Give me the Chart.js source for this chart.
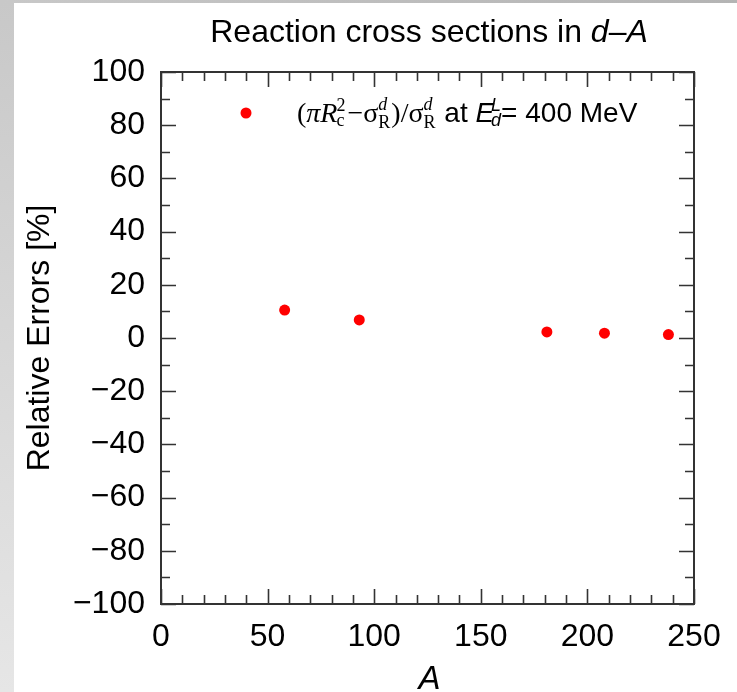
<!DOCTYPE html>
<html>
<head>
<meta charset="utf-8">
<script src="https://cdn.jsdelivr.net/npm/chart.js@4"></script>
<style>
  html, body { margin: 0; padding: 0; }
  body { width: 737px; height: 692px; position: relative; overflow: hidden; background: #fff; }
  #topBar { position: absolute; left: 0; top: 0; width: 737px; height: 3px; background: linear-gradient(to right, #c8c8c8, #b4b4b4); }
  #leftBar { position: absolute; left: 0; top: 0; width: 14px; height: 692px; background: linear-gradient(to bottom, #c8c8c8, #e6e6e6); }
  #wrap { position: absolute; left: 14px; top: 3px; width: 723px; height: 689px; background: #fff; }
</style>
</head>
<body>
<div id="topBar"></div>
<div id="leftBar"></div>
<div id="wrap"><canvas id="chart"></canvas></div>
<script>
// mass number of the target nucleus and relative error in %
const massNumbers = [58, 93, 181, 208, 238];
const relErrors = [10.5, 6.8, 2.3, 1.8, 1.3];

const xTicks = { min: 0, max: 250, major: 50, minor: 10 };
const yTicks = { min: -100, max: 100, major: 20, minor: 10 };

const SANS = '"Liberation Sans", Arial, Helvetica, sans-serif';
const SERIF = '"Liberation Serif", "Times New Roman", serif';
const INK = '#333';

// inside ticks on all four sides + frame
const frameTicks = {
    id: 'frameTicks',
    afterDatasetsDraw(chart) {
        const { ctx, chartArea: a, scales: { x, y } } = chart;
        ctx.save();
        ctx.strokeStyle = INK;
        ctx.lineWidth = 1.6;
        const majLen = 15, minLen = 9;
        ctx.beginPath();
        for (let v = xTicks.min; v <= xTicks.max; v += xTicks.minor) {
            const px = Math.round(x.getPixelForValue(v)) + 0.5;
            const len = v % xTicks.major === 0 ? majLen : minLen;
            ctx.moveTo(px, a.bottom); ctx.lineTo(px, a.bottom - len);
            ctx.moveTo(px, a.top); ctx.lineTo(px, a.top + len);
        }
        for (let v = yTicks.min; v <= yTicks.max; v += yTicks.minor) {
            const py = Math.round(y.getPixelForValue(v)) + 0.5;
            const len = v % yTicks.major === 0 ? majLen : minLen;
            ctx.moveTo(a.left, py); ctx.lineTo(a.left + len, py);
            ctx.moveTo(a.right, py); ctx.lineTo(a.right - len, py);
        }
        ctx.stroke();
        ctx.lineWidth = 2;
        ctx.strokeRect(a.left, a.top, a.right - a.left, a.bottom - a.top);
        ctx.restore();
    }
};

function drawRuns(ctx, runs, x, y) {
    for (const r of runs) {
        ctx.font = r.font;
        ctx.fillText(r.t, x, y + (r.dy || 0));
        x += r.w !== undefined ? r.w : ctx.measureText(r.t).width;
    }
    return x;
}
function runsWidth(ctx, runs) {
    let w = 0;
    for (const r of runs) { ctx.font = r.font; w += r.w !== undefined ? r.w : ctx.measureText(r.t).width; }
    return w;
}

const decorations = {
    id: 'decorations',
    afterDraw(chart) {
        const { ctx, chartArea: a } = chart;
        ctx.save();
        ctx.fillStyle = '#000';
        ctx.textBaseline = 'alphabetic';
        ctx.textAlign = 'left';

        // title
        const tRuns = [
            { t: 'Reaction cross sections in ', font: '32px ' + SANS },
            { t: 'd', font: 'italic 32px ' + SANS },
            { t: '\u2013', font: '32px ' + SANS },
            { t: 'A', font: 'italic 32px ' + SANS }
        ];
        const tw = runsWidth(ctx, tRuns);
        drawRuns(ctx, tRuns, 429 - 14 - tw / 2, 39);

        // y axis title
        ctx.save();
        ctx.translate(49 - 14, (a.top + a.bottom) / 2);
        ctx.rotate(-Math.PI / 2);
        ctx.textAlign = 'center';
        ctx.font = '32px ' + SANS;
        ctx.fillText('Relative Errors [%]', 0, 0);
        ctx.restore();

        // x axis title
        ctx.textAlign = 'center';
        ctx.font = 'italic 33px ' + SANS;
        ctx.fillText('A', (a.left + a.right) / 2 + 2, 686);
        ctx.textAlign = 'left';

        // legend
        const lx = a.left + 85, ly = a.top + 41;
        ctx.fillStyle = '#ff0000';
        ctx.beginPath(); ctx.arc(lx, ly, 5.5, 0, Math.PI * 2); ctx.fill();
        ctx.fillStyle = '#000';
        const ser = '28px ' + SERIF, serI = 'italic 28px ' + SERIF;
        const smS = '18px ' + SERIF, smI = 'italic 18px ' + SERIF;
        const san = '28px ' + SANS, sanI = 'italic 28px ' + SANS;
        const smSan = 'italic 18px ' + SANS;
        let x0 = a.left + 136, y0 = ly + 9;
        x0 = drawRuns(ctx, [
            { t: '(', font: ser }, { t: '\u03c0', font: serI }, { t: 'R', font: serI }
        ], x0, y0);
        ctx.font = smS; ctx.fillText('2', x0 - 1, y0 - 11); ctx.fillText('c', x0 - 1, y0 + 4);
        x0 += 10;
        x0 = drawRuns(ctx, [{ t: '\u2212', font: ser }, { t: '\u03c3', font: ser }], x0, y0);
        ctx.font = smI; ctx.fillText('d', x0, y0 - 12);
        ctx.font = smS; ctx.fillText('R', x0, y0 + 6);
        x0 += 13;
        x0 = drawRuns(ctx, [{ t: ')/', font: ser }, { t: '\u03c3', font: ser }], x0, y0);
        ctx.font = smI; ctx.fillText('d', x0, y0 - 12);
        ctx.font = smS; ctx.fillText('R', x0, y0 + 6);
        x0 += 13;
        x0 = drawRuns(ctx, [{ t: ' at ', font: san }, { t: 'E', font: sanI }], x0, y0);
        ctx.font = smSan; ctx.fillText('L', x0 - 3, y0 - 11); ctx.fillText('d', x0 - 3, y0 + 4);
        x0 += 7;
        drawRuns(ctx, [{ t: '= 400 MeV', font: san }], x0, y0);
        ctx.restore();
    }
};

new Chart(document.getElementById('chart').getContext('2d'), {
    type: 'scatter',
    data: {
        datasets: [{
            label: 'relative error',
            data: massNumbers.map((m, i) => ({ x: m, y: relErrors[i] })),
            backgroundColor: '#ff0000',
            borderColor: '#ff0000',
            pointRadius: 5.5,
            pointBorderWidth: 0
        }]
    },
    options: {
        responsive: true,
        maintainAspectRatio: false,
        animation: false,
        layout: { padding: { left: 0, top: 69, right: 43, bottom: 0 } },
        plugins: { legend: { display: false }, tooltip: { enabled: false }, title: { display: false } },
        scales: {
            x: {
                type: 'linear', min: xTicks.min, max: xTicks.max,
                grid: { display: false, drawTicks: false },
                border: { display: false },
                ticks: { stepSize: xTicks.major, color: '#000', padding: 14, maxRotation: 0,
                         font: { family: SANS, size: 32 } },
                afterFit(s) { s.height = 88; }
            },
            y: {
                type: 'linear', min: yTicks.min, max: yTicks.max,
                grid: { display: false, drawTicks: false },
                border: { display: false },
                ticks: { stepSize: yTicks.major, color: '#000', padding: 16,
                         font: { family: SANS, size: 32 },
                         callback: v => v < 0 ? '\u2212' + Math.abs(v) : String(v) },
                afterFit(s) { s.width = 147; }
            }
        }
    },
    plugins: [frameTicks, decorations]
});
</script>
</body>
</html>
